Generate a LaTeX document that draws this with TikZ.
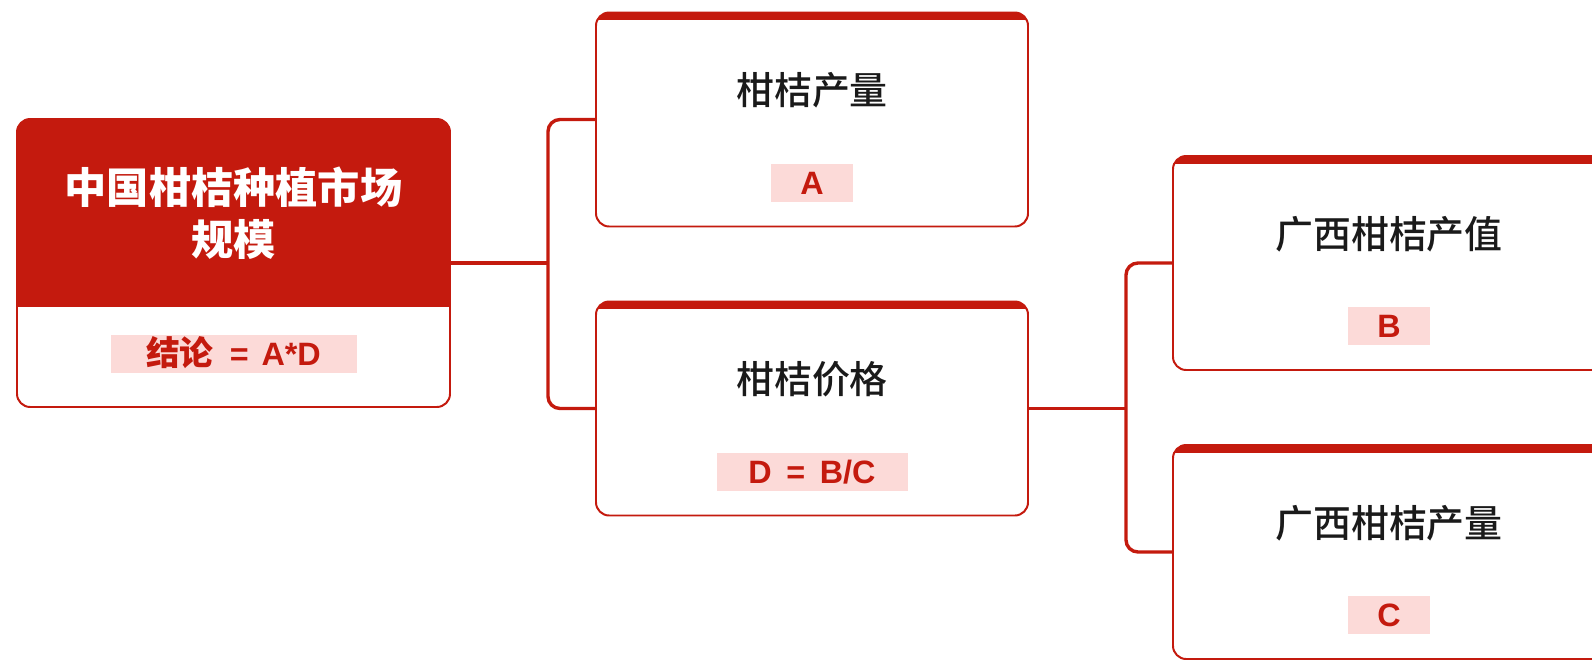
\documentclass[tikz,border=0pt]{standalone}
\usepackage{fontspec}
\setmainfont{Noto Sans CJK SC}
\newfontfamily\titlefont{Noto Sans CJK SC Medium}
\newfontfamily\latinfont{Liberation Sans}
\usetikzlibrary{positioning,calc}
\definecolor{zred}{RGB}{196,26,14}
\definecolor{zpink}{RGB}{252,218,216}
\definecolor{zink}{RGB}{26,26,26}

\begin{document}
\begin{tikzpicture}[
    leafbox/.style={draw=zred,line width=1.4pt,fill=white,rounded corners=0.33cm,
        minimum width=10.8cm,minimum height=5.35cm,
        path picture={\fill[zred,sharp corners] (path picture bounding box.north west) rectangle ([yshift=-0.19cm]path picture bounding box.north east);}},
    rootbox/.style={draw=zred,line width=1.4pt,fill=white,rounded corners=0.33cm,
        minimum width=10.825cm,minimum height=7.2cm,
        path picture={\fill[zred,sharp corners] (path picture bounding box.north west) rectangle ([yshift=-4.7cm]path picture bounding box.north east);}},
    leaftitle/.style={inner sep=0pt,text=zink,font=\titlefont\fontsize{27}{32}\selectfont},
    roottitle/.style={inner sep=0pt,text=white,align=center,font=\fontsize{30}{37}\selectfont\bfseries},
    valbox/.style={fill=zpink,text=zred,font=\latinfont\bfseries\fontsize{23}{27}\selectfont,
        minimum height=0.95cm,inner sep=0pt,text height=16.5pt,text depth=0pt},
    conn/.style={draw=zred,line width=2.4pt,rounded corners=0.3cm}
]
    \useasboundingbox (0,0) rectangle (39.8,-16.475);
    % root
    \node[rootbox] (root) at (5.8375,-6.575) {};
    \node[roottitle] (root-t) at ([yshift=-2.375cm]root.north) {中国柑桔种植市场\\规模};
    \node[valbox,minimum width=6.15cm] (root-v) at ([yshift=-5.9cm]root.north)
        {{\rmfamily\fontsize{24}{28}\selectfont 结论}\hspace{0.5em}=\hspace{0.4em}A*D};
    % factor boxes
    \foreach \nm/\cx/\cy/\ttl/\val/\vw in {c1/20.3/-2.9875/柑桔产量/A/2.05,
                                           c2/20.3/-10.2125/柑桔价格/{D\hspace{0.45em}=\hspace{0.45em}B/C}/4.775,
                                           g1/34.725/-6.575/广西柑桔产值/B/2.05,
                                           g2/34.725/-13.8/广西柑桔产量/C/2.05} {
        \node[leafbox] (\nm) at (\cx,\cy) {};
        \node[leaftitle] (\nm-t) at ([yshift=-1.975cm]\nm.north) {\ttl};
        \node[valbox,minimum width=\vw cm] (\nm-v) at ([yshift=-4.275cm]\nm.north) {\val};
    }
    % connectors
    \coordinate (j1) at ([xshift=2.425cm]root.east);
    \draw[conn] (root.east) -- (j1);
    \draw[conn] (c1.west) -| (j1) |- (c2.west);
    \coordinate (j2) at ([xshift=2.425cm]c2.east);
    \draw[conn] (c2.east) -- (j2);
    \draw[conn] (g1.west) -| (j2) |- (g2.west);
\end{tikzpicture}
\end{document}
